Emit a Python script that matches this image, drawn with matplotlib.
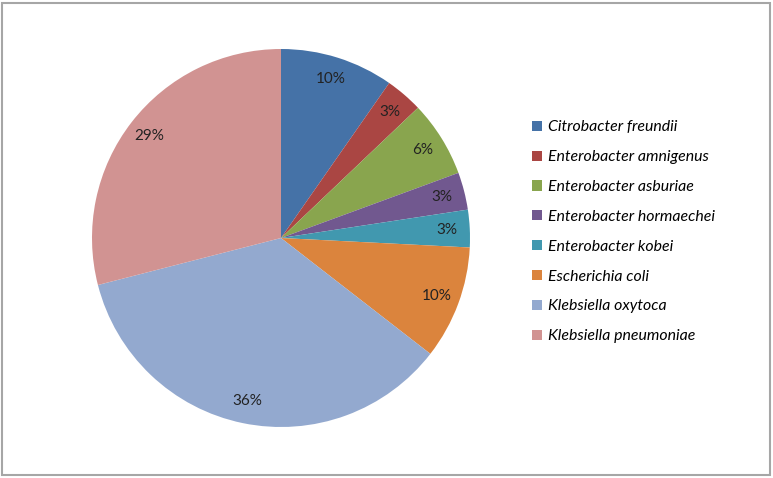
import matplotlib.pyplot as plt
from matplotlib.patches import Rectangle

species = ['Citrobacter freundii', 'Enterobacter amnigenus', 'Enterobacter asburiae',
           'Enterobacter hormaechei', 'Enterobacter kobei', 'Escherichia coli',
           'Klebsiella oxytoca', 'Klebsiella pneumoniae']
share = [9.7, 3.2, 6.5, 3.2, 3.2, 9.7, 35.5, 29.0]
pct_text = ['10%', '3%', '6%', '3%', '3%', '10%', '36%', '29%']
colors = ['#4572A7', '#AA4643', '#89A54E', '#71588F', '#4198AF', '#DB843D',
          '#93A9CF', '#D19392']

plt.rcParams['font.family'] = ['Lato', 'DejaVu Sans']

fig = plt.figure(figsize=(7.73, 4.78), dpi=100)
ax = fig.add_axes([92 / 773, 51 / 478, 378 / 773, 378 / 478])

it = iter(pct_text)
wedges, texts, autotexts = ax.pie(share, colors=colors, startangle=90, counterclock=False,
                                  autopct=lambda p: next(it), pctdistance=0.88,
                                  wedgeprops=dict(linewidth=0),
                                  textprops=dict(fontsize=11, color='#222222'))
ax.set_xlim(-1, 1)
ax.set_ylim(-1, 1)
ax.set_aspect('equal')

fig.legend(wedges, species, loc='center left', bbox_to_anchor=(532 / 773, 0.515),
           frameon=False, prop=dict(size=11.4, style='italic'),
           handlelength=0.6, handleheight=0.6, handletextpad=0.4,
           labelspacing=1.0, borderpad=0, borderaxespad=0)

fig.patches.append(Rectangle((2 / 773, 3 / 478), 768 / 773, 472 / 478,
                             transform=fig.transFigure, fill=False,
                             edgecolor='#a6a6a6', linewidth=1.5))

plt.savefig('out.png', dpi=100)
